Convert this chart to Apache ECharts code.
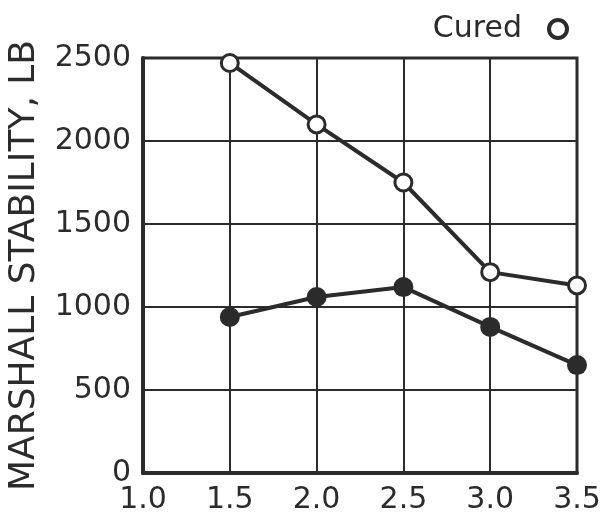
<!DOCTYPE html>
<html>
<head>
<meta charset="utf-8">
<script src="https://cdn.jsdelivr.net/npm/echarts@6/dist/echarts.min.js"></script>
<style>
  html, body { margin: 0; padding: 0; background: #ffffff; }
  #chart { width: 603px; height: 519px; }
</style>
</head>
<body>
<div id="chart"></div>
<script>
// Asphalt content (x) vs Marshall stability (lb)
const xValues = [1.5, 2.0, 2.5, 3.0, 3.5];
const curedStability = [2470, 2100, 1750, 1210, 1130];
const uncuredStability = [940, 1060, 1120, 880, 650];
const yTicks = [0, 500, 1000, 1500, 2000, 2500];
const xTicks = [1.0, 1.5, 2.0, 2.5, 3.0, 3.5];

const ink = '#2b2b2b';
const font = 'DejaVu Sans';

const pairs = (xs, ys) => xs.map((x, i) => [x, ys[i]]);

const chart = echarts.init(document.getElementById('chart'));
chart.setOption({
  backgroundColor: '#ffffff',
  animation: false,
  grid: {
    left: 143, right: 26, top: 58, bottom: 46,
    outerBoundsMode: 'none', containLabel: false,
    show: true, borderColor: ink, borderWidth: 3, backgroundColor: 'transparent'
  },
  legend: {
    right: 29, top: 9,
    align: 'right',
    itemWidth: 18, itemHeight: 18, itemGap: 10,
    textStyle: { fontFamily: font, fontSize: 30, color: ink, padding: [0, 22, 0, 0] },
    data: [{
      name: 'Cured',
      icon: 'circle',
      itemStyle: { color: '#ffffff', borderColor: ink, borderWidth: 4 }
    }]
  },
  xAxis: {
    type: 'value',
    min: xTicks[0], max: xTicks[xTicks.length - 1], interval: 0.5,
    axisLine: { show: true, lineStyle: { color: ink, width: 4 } },
    axisTick: { show: false },
    splitLine: { show: true, lineStyle: { color: ink, width: 2 } },
    axisLabel: {
      margin: 12, fontFamily: font, fontSize: 30, color: ink,
      formatter: v => v.toFixed(1)
    }
  },
  yAxis: {
    type: 'value',
    min: yTicks[0], max: yTicks[yTicks.length - 1], interval: 500,
    name: 'MARSHALL STABILITY, LB',
    nameLocation: 'middle', nameGap: 100, nameRotate: 90,
    nameTextStyle: { fontFamily: font, fontSize: 36, color: ink },
    axisLine: { show: true, lineStyle: { color: ink, width: 4 } },
    axisTick: { show: false },
    splitLine: { show: true, lineStyle: { color: ink, width: 2 } },
    axisLabel: {
      margin: 12, fontFamily: font, fontSize: 30, color: ink,
      formatter: v => String(v)
    }
  },
  series: [
    {
      name: 'Cured', type: 'line',
      data: pairs(xValues, curedStability),
      symbol: 'circle', symbolSize: 17,
      lineStyle: { color: ink, width: 4 },
      itemStyle: { color: '#ffffff', borderColor: ink, borderWidth: 3 },
      z: 3
    },
    {
      name: 'Uncured', type: 'line',
      data: pairs(xValues, uncuredStability),
      symbol: 'circle', symbolSize: 20,
      lineStyle: { color: ink, width: 4 },
      itemStyle: { color: ink, borderColor: ink, borderWidth: 0 },
      z: 3
    }
  ]
});
</script>
</body>
</html>
